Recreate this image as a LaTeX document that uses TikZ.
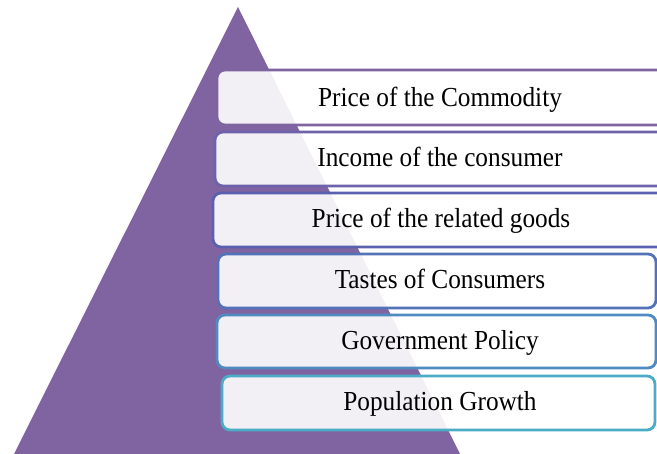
\documentclass[tikz,border=0pt]{standalone}
\usepackage{fontspec}
\setmainfont{Liberation Serif}[FakeStretch=0.92]
\definecolor{tri}{HTML}{8064A2}
\definecolor{cA}{HTML}{8064A2}
\definecolor{cB}{HTML}{6E62AA}
\definecolor{cC}{HTML}{5B5FAF}
\definecolor{cD}{HTML}{5372B7}
\definecolor{cE}{HTML}{4F8AC0}
\definecolor{cF}{HTML}{4BACC6}
\tikzset{
  levelbox/.style={line width=2.8pt, rounded corners=8pt, fill=white, fill opacity=0.9, draw opacity=1},
  leveltext/.style={font=\fontsize{27.5}{30}\selectfont, text=black, inner sep=0pt, anchor=base}
}
\begin{document}
\begin{tikzpicture}[x=1pt,y=-1pt]
\useasboundingbox (0,0) rectangle (657,454);
\clip (0,0) rectangle (657,454);
\fill[tri] (238,7) coordinate (apex) -- (12,458) -- (462,458) -- cycle;
\draw[levelbox, draw=cA] (217,70) rectangle (680,125);
\draw[levelbox, draw=cB] (215,132) rectangle (680,186);
\draw[levelbox, draw=cC] (213,193) rectangle (680,247);
\draw[levelbox, draw=cD] (218,254) rectangle (656,308);
\draw[levelbox, draw=cE] (217,315) rectangle (656,368);
\draw[levelbox, draw=cF] (222,376) rectangle (655,430);
\node[leveltext] (t1) at (440,107) {Price of the Commodity};
\node[leveltext] (t2) at (440,167) {Income of the consumer};
\node[leveltext] (t3) at (441,228) {Price of the related goods};
\node[leveltext] (t4) at (440,289) {Tastes of Consumers};
\node[leveltext] (t5) at (440,350) {Government Policy};
\node[leveltext] (t6) at (440,411) {Population Growth};
\end{tikzpicture}
\end{document}
